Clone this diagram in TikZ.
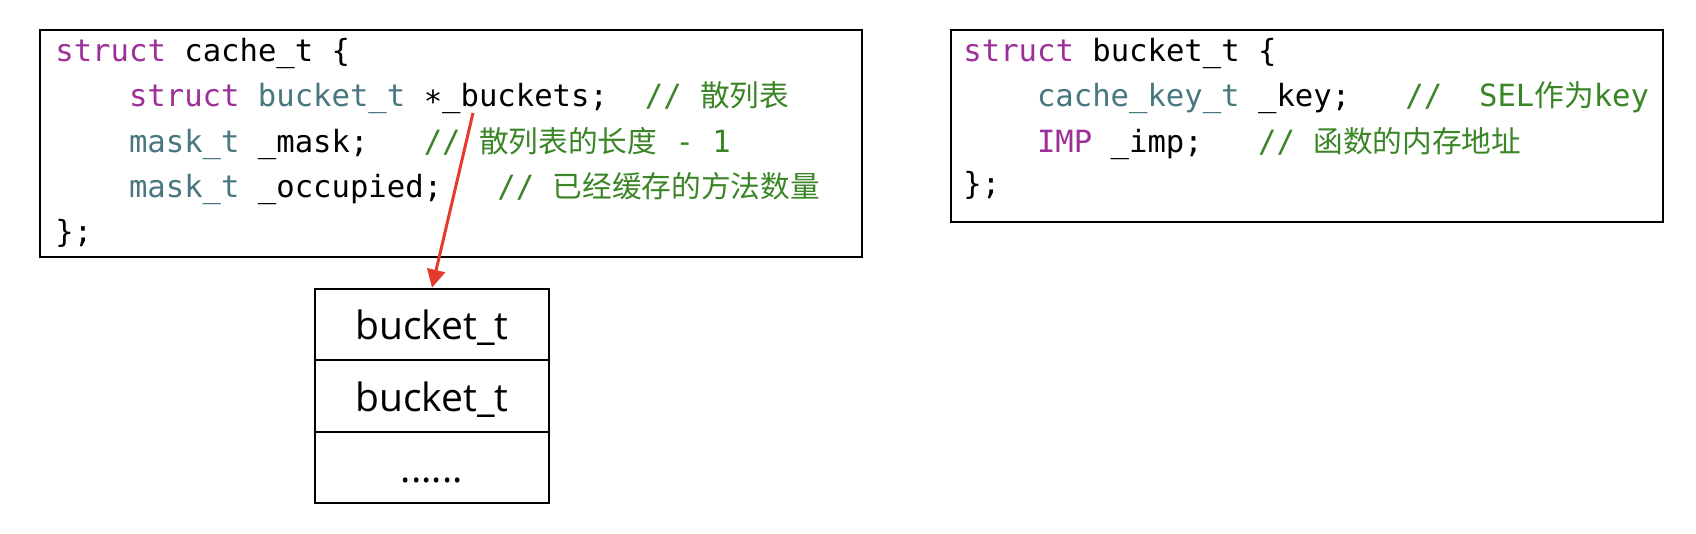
\documentclass[tikz,border=0pt]{standalone}
\usepackage{fontspec}
\usetikzlibrary{arrows.meta}
\newfontfamily\codemono{DejaVu Sans Mono}
\newfontfamily\cjk[Scale=0.97]{Noto Sans CJK SC}
\newfontfamily\labelsans{Open Sans}
\definecolor{kwcol}{HTML}{9E2F98}
\definecolor{tycol}{HTML}{48777F}
\definecolor{cmcol}{HTML}{3A8526}
\definecolor{arrcol}{HTML}{E53A2C}
\newcommand{\kw}[1]{\textcolor{kwcol}{#1}}
\newcommand{\ty}[1]{\textcolor{tycol}{#1}}
\newcommand{\cm}[1]{\textcolor{cmcol}{#1}}
\tikzset{
  codebox/.style={draw=black, line width=1.3pt, fill=white, inner sep=0pt},
  codeline/.style={anchor=base west, inner sep=0pt, font=\codemono\fontsize{15.3pt}{18pt}\selectfont},
  cell/.style={draw=black, line width=1.3pt, inner sep=0pt, minimum width=117pt,
    text height=17pt, text depth=2pt, font=\labelsans\fontsize{19.5pt}{22pt}\selectfont},
  pointer/.style={draw=arrcol, line width=1.5pt, -{Triangle[length=9pt,width=9pt]}, arrcol}
}
\begin{document}
\begin{tikzpicture}[x=0.5pt,y=-0.5pt]
\fill[white] (0,0) rectangle (1696,534);
\useasboundingbox (0,0) rectangle (1696,534);

% left struct box
\node[codebox, minimum width=411pt, minimum height=113.5pt] (cache) at (451,143.5) {};
\node[codeline] (c1) at (55,61.5) {\kw{struct}~cache\_t~\{};
\node[codeline] (c2) at (128.6,106.8) {\kw{struct}~\ty{bucket\_t}~∗\_buckets;~~\cm{//~{\cjk 散列表}}};
\node[codeline] (c3) at (128.6,152.1) {\ty{mask\_t}~\_mask;~~~\cm{//~{\cjk 散列表的长度}~-~1}};
\node[codeline] (c4) at (128.6,197.4) {\ty{mask\_t}~\_occupied;~~~\cm{//~{\cjk 已经缓存的方法数量}}};
\node[codeline] (c5) at (55,242.7) {\};};

% right struct box
\node[codebox, minimum width=356pt, minimum height=96pt] (bucket) at (1307,126) {};
\node[codeline] (d1) at (963,61.5) {\kw{struct}~bucket\_t~\{};
\node[codeline] (d2) at (1036.6,106.8) {\ty{cache\_key\_t}~\_key;~~~\cm{//~~SEL{\cjk 作为}key}};
\node[codeline] (d3) at (1036.6,152.1) {\kw{IMP}~\_imp;~~~\cm{//~{\cjk 函数的内存地址}}};
\node[codeline] (d4) at (963,195) {\};};

% bucket array
\node[cell, minimum height=35.5pt] (b1) at (432,324.5) {bucket\_t};
\node[cell, minimum height=36pt] (b2) at (432,396) {bucket\_t};
\node[cell, minimum height=35.5pt] (b3) at (432,467.5) {......};

% pointer arrow
\coordinate (ptr) at (473,113);
\draw[pointer] (ptr) -- (b1.north);
\end{tikzpicture}
\end{document}
